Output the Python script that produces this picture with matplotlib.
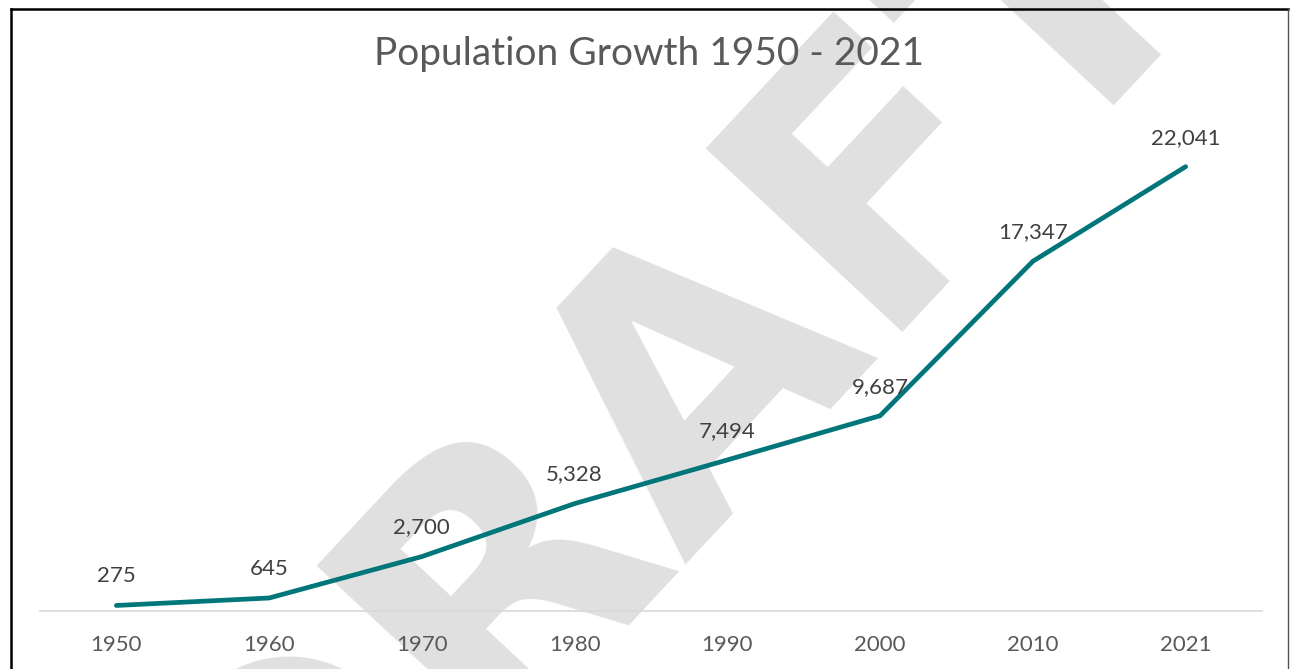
import matplotlib.pyplot as plt
from matplotlib.lines import Line2D

# Datos
years = ["1950", "1960", "1970", "1980", "1990", "2000", "2010", "2021"]
population = [275, 645, 2700, 5328, 7494, 9687, 17347, 22041]
title = "Population Growth 1950 - 2021"
watermark = "DRAFT"

line_color = "#00767a"
text_color = "#595959"
label_color = "#404040"

plt.rcParams['font.family'] = ['Lato', 'DejaVu Sans']

fig = plt.figure(figsize=(12.91, 6.69), dpi=100)
ax = fig.add_axes([40 / 1291, 58 / 669, 1222 / 1291, 504 / 669])
ax.set_facecolor('none')

# marca de agua
ax.text(742 / 1291, 1 - 468 / 669, watermark, transform=fig.transFigure,
        fontsize=266, fontweight='bold', family='DejaVu Sans', color='#e0e0e0',
        rotation=47, rotation_mode='anchor', ha='center', va='baseline',
        zorder=0.5, clip_on=False)

x = list(range(len(years)))
ax.plot(x, population, color=line_color, linewidth=3.4,
        solid_capstyle='round', solid_joinstyle='miter', zorder=3)

# etiquetas de datos
for xi, val in zip(x, population):
    ax.annotate(f"{val:,}", (xi, val), xytext=(0, 23), textcoords='offset pixels',
                ha='center', va='baseline', fontsize=16, color=label_color, zorder=4)

ax.set_xlim(-0.5, len(years) - 0.5)
ax.set_ylim(0, 25000)
ax.set_xticks(x)
ax.set_xticklabels(years, fontsize=16, color=text_color)
ax.tick_params(axis='x', length=0, pad=17)
ax.set_yticks([])
for side in ['left', 'right', 'top']:
    ax.spines[side].set_visible(False)
ax.spines['bottom'].set_color('#d9d9d9')
ax.spines['bottom'].set_linewidth(1.2)
ax.spines['bottom'].set_zorder(2.5)

fig.text(649 / 1291, 1 - 54 / 669, title, ha='center', va='center',
         fontsize=28, color=text_color)

# borde del gráfico
fig.add_artist(Line2D([11 / 1291, 11 / 1291], [0, 1 - 8.5 / 669], color='black',
                      linewidth=1.8, transform=fig.transFigure))
fig.add_artist(Line2D([11 / 1291, 1287.5 / 1291], [1 - 8.5 / 669, 1 - 8.5 / 669],
                      color='black', linewidth=1.8, transform=fig.transFigure))
fig.add_artist(Line2D([1287.5 / 1291, 1287.5 / 1291], [0, 1 - 8.5 / 669], color='#555555',
                      linewidth=1.0, transform=fig.transFigure))

fig.savefig('out.png', dpi=100)
